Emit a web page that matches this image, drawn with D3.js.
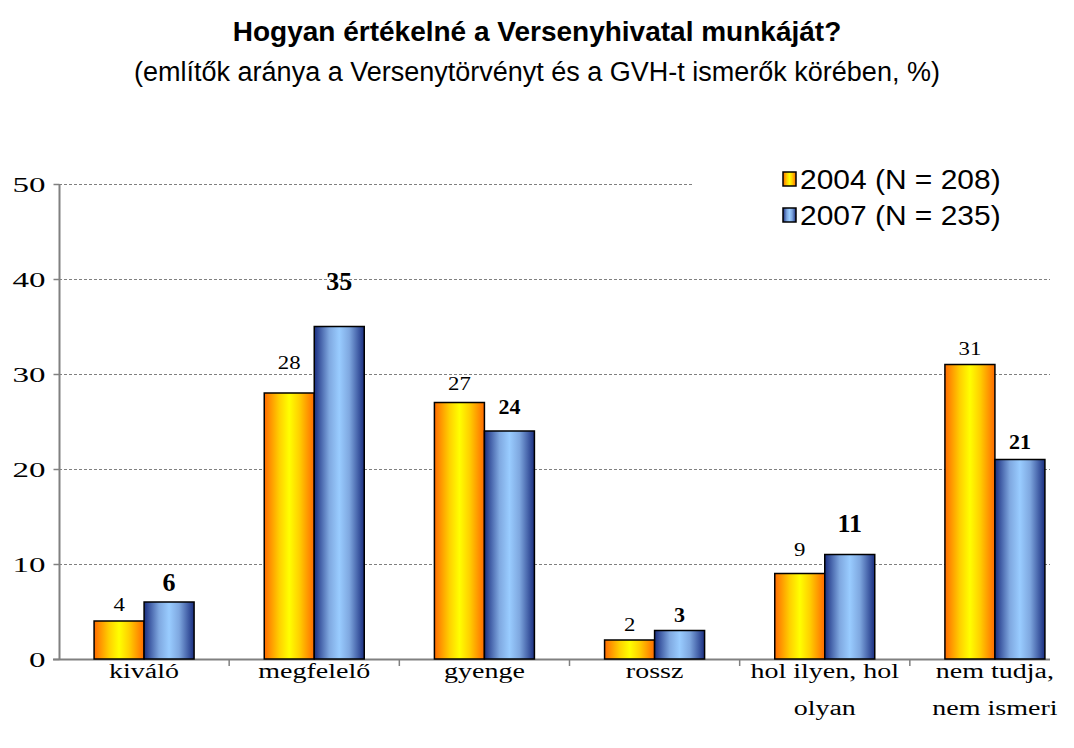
<!DOCTYPE html>
<html><head><meta charset="utf-8">
<script src="https://cdn.jsdelivr.net/npm/d3@7"></script>
<style>body{margin:0;background:#fff;} svg{display:block;}</style>
</head><body>
<svg id="c" width="1074" height="748"></svg>
<script>
const categories = [["kiváló"], ["megfelelő"], ["gyenge"], ["rossz"], ["hol ilyen, hol", "olyan"], ["nem tudja,", "nem ismeri"]];
const values2004 = [4, 28, 27, 2, 9, 31];
const values2007 = [6, 35, 24, 3, 11, 21];
const seriesNames = ["2004 (N = 208)", "2007 (N = 235)"];
const yTicks = [0, 10, 20, 30, 40, 50];
// label styling: big bold 2007 labels, and gap above bars
const bigLabel2007 = [true, true, false, false, true, false];
const gap2004 = [10, 24, 13, 9, 18, 10];
const gap2007 = [11, 37, 17, 9, 23, 11];

const svg = d3.select("#c");
const x0 = 59, xEnd = 1080, yBottom = 659, yTop = 184;
const x = d3.scaleBand().domain(d3.range(categories.length)).range([x0, xEnd]);
const y = d3.scaleLinear().domain([0, 50]).range([yBottom, yTop]);
const barW = 50;
const serif = "Liberation Serif, Times New Roman, serif";
const sans = "Liberation Sans, Arial, sans-serif";

const defs = svg.append("defs");
function grad(id, stops) {
  const g = defs.append("linearGradient").attr("id", id).attr("x1", "0%").attr("x2", "100%").attr("y1", "0%").attr("y2", "0%");
  stops.forEach(s => g.append("stop").attr("offset", s[0]).attr("stop-color", s[1]));
}
grad("gOrange", [["0%", "#ff6a00"], ["30%", "#ffd000"], ["50%", "#ffff00"], ["70%", "#ffd000"], ["100%", "#ff6a00"]]);
grad("gBlue", [["0%", "#1a2e80"], ["30%", "#7fa8e0"], ["50%", "#99ccff"], ["70%", "#7fa8e0"], ["100%", "#1a2e80"]]);

// horizontally stretched text helper
function stext(g, tx, ty, sx, anchor, str) {
  return g.append("text").attr("transform", `translate(${tx},${ty}) scale(${sx},1)`)
    .attr("text-anchor", anchor).text(str);
}

// title
svg.append("text").attr("x", 537).attr("y", 41).attr("text-anchor", "middle")
  .style("font-family", sans).style("font-weight", "bold").style("font-size", "28px")
  .text("Hogyan értékelné a Versenyhivatal munkáját?");
svg.append("text").attr("x", 537).attr("y", 81).attr("text-anchor", "middle")
  .style("font-family", sans).style("font-size", "27px")
  .text("(említők aránya a Versenytörvényt és a GVH-t ismerők körében, %)");

// gridlines
svg.append("g").selectAll("line").data(yTicks.filter(d => d > 0)).join("line")
  .attr("x1", x0).attr("x2", d => d === 50 ? 692 : 1050)
  .attr("y1", d => Math.round(y(d)) + 0.5).attr("y2", d => Math.round(y(d)) + 0.5)
  .attr("stroke", "#808080").attr("stroke-width", 1).attr("stroke-dasharray", "3,2");

// y axis
const yAxis = svg.append("g").attr("transform", `translate(${x0 + 0.5},0)`)
  .call(d3.axisLeft(y).tickValues(yTicks).tickSize(6).tickFormat(d3.format("d")));
yAxis.select(".domain").attr("stroke", "#808080").attr("stroke-width", 2).attr("d", `M0,${yTop}V${yBottom}`);
yAxis.selectAll(".tick line").attr("stroke", "#808080").attr("stroke-width", 1.5);
yAxis.selectAll(".tick text").remove();
yAxis.selectAll(".tick").each(function(d) {
  stext(d3.select(this), -14, 7, 1.5, "end", d)
    .style("font-family", serif).style("font-size", "22px").attr("fill", "#000");
});

// x axis line + ticks
svg.append("line").attr("x1", x0 - 6).attr("x2", 1050).attr("y1", yBottom + 0.5).attr("y2", yBottom + 0.5)
  .attr("stroke", "#808080").attr("stroke-width", 2);
svg.append("g").selectAll("line").data(d3.range(1, categories.length)).join("line")
  .attr("x1", i => x(i)).attr("x2", i => x(i)).attr("y1", yBottom).attr("y2", yBottom + 7)
  .attr("stroke", "#808080").attr("stroke-width", 1.5);

// category labels
const catG = svg.append("g");
categories.forEach((lines, i) => {
  lines.forEach((ln, j) => {
    stext(catG, x(i) + x.bandwidth() / 2, 678 + j * 37, 1.4, "middle", ln)
      .style("font-family", serif).style("font-size", "20px");
  });
});

// bars
const bars = svg.append("g");
categories.forEach((c, i) => {
  const cx = x(i) + x.bandwidth() / 2;
  bars.append("rect").attr("x", cx - barW).attr("y", y(values2004[i])).attr("width", barW)
    .attr("height", yBottom - y(values2004[i])).attr("fill", "url(#gOrange)").attr("stroke", "#000").attr("stroke-width", 1.5);
  bars.append("rect").attr("x", cx).attr("y", y(values2007[i])).attr("width", barW)
    .attr("height", yBottom - y(values2007[i])).attr("fill", "url(#gBlue)").attr("stroke", "#000").attr("stroke-width", 1.5);
  stext(bars, cx - barW / 2, y(values2004[i]) - gap2004[i], 1.2, "middle", values2004[i])
    .style("font-family", serif).style("font-size", "19px");
  stext(bars, cx + barW / 2, y(values2007[i]) - gap2007[i], bigLabel2007[i] ? 1.0 : 1.1, "middle", values2007[i])
    .style("font-family", serif).style("font-weight", "bold")
    .style("font-size", bigLabel2007[i] ? "26px" : "20px");
});

// legend
const lg = svg.append("g");
seriesNames.forEach((n, i) => {
  const yy = 179 + i * 36;
  lg.append("rect").attr("x", 783).attr("y", yy - 7).attr("width", 13).attr("height", 14)
    .attr("fill", i === 0 ? "url(#gOrange)" : "url(#gBlue)").attr("stroke", "#000").attr("stroke-width", 1.5);
  stext(lg, 800, yy + 10, 1.07, "start", n)
    .style("font-family", sans).style("font-size", "28px");
});
</script>
</body></html>
